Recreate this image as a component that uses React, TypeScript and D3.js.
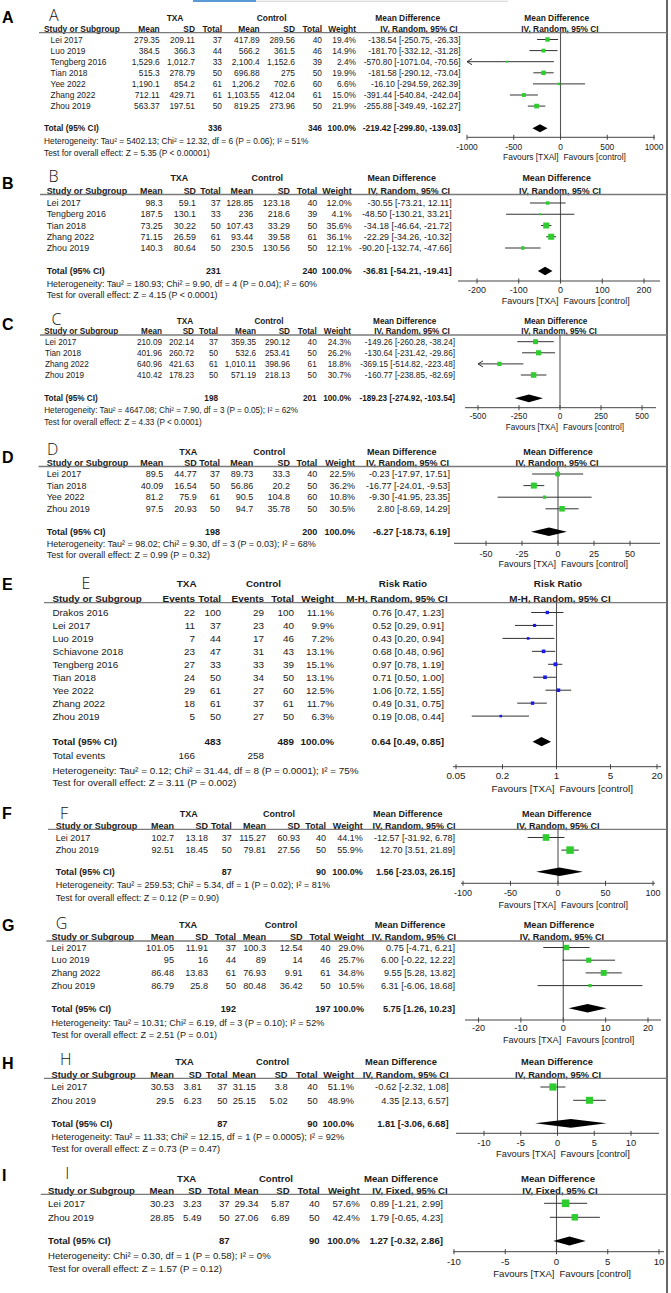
import React from 'react';
import * as d3 from 'd3';

const W = 671;
const H = 1293;
const FONT = "'Liberation Sans', Arial, Helvetica, sans-serif";

// ---------- A ----------
const A_studies = ['Lei 2017', 'Luo 2019', 'Tengberg 2016', 'Tian 2018', 'Yee 2022', 'Zhang 2022', 'Zhou 2019'];
const A_txa = [['279.35', '209.11', '37'], ['384.5', '366.3', '44'], ['1,529.6', '1,012.7', '33'], ['515.3', '278.79', '50'], ['1,190.1', '854.2', '61'], ['712.11', '429.71', '61'], ['563.37', '197.51', '50']];
const A_ctl = [['417.89', '289.56', '40'], ['566.2', '361.5', '46'], ['2,100.4', '1,152.6', '39'], ['696.88', '275', '50'], ['1,206.2', '702.6', '60'], ['1,103.55', '412.04', '61'], ['819.25', '273.96', '50']];
const A_weight = [19.4, 14.9, 2.4, 19.9, 6.6, 15.0, 21.9];
const A_effect = [[-138.54, -250.75, -26.33], [-181.70, -332.12, -31.28], [-570.80, -1071.04, -70.56], [-181.58, -290.12, -73.04], [-16.10, -294.59, 262.39], [-391.44, -540.84, -242.04], [-255.88, -349.49, -162.27]];
const A_totals = ['336', '346'];
const A_pooled = [-219.42, -299.80, -139.03];
const A_notes = ['Heterogeneity: Tau² = 5402.13; Chi² = 12.32, df = 6 (P = 0.06); I² = 51%', 'Test for overall effect: Z = 5.35 (P < 0.00001)'];
const A_ticks = [-1000, -500, 0, 500, 1000];

// ---------- B ----------
const B_studies = ['Lei 2017', 'Tengberg 2016', 'Tian 2018', 'Zhang 2022', 'Zhou 2019'];
const B_txa = [['98.3', '59.1', '37'], ['187.5', '130.1', '33'], ['73.25', '30.22', '50'], ['71.15', '26.59', '61'], ['140.3', '80.64', '50']];
const B_ctl = [['128.85', '123.18', '40'], ['236', '218.6', '39'], ['107.43', '33.29', '50'], ['93.44', '39.58', '61'], ['230.5', '130.56', '50']];
const B_weight = [12.0, 4.1, 35.6, 36.1, 12.1];
const B_effect = [[-30.55, -73.21, 12.11], [-48.50, -130.21, 33.21], [-34.18, -46.64, -21.72], [-22.29, -34.26, -10.32], [-90.20, -132.74, -47.66]];
const B_totals = ['231', '240'];
const B_pooled = [-36.81, -54.21, -19.41];
const B_notes = ['Heterogeneity: Tau² = 180.93; Chi² = 9.90, df = 4 (P = 0.04); I² = 60%', 'Test for overall effect: Z = 4.15 (P < 0.0001)'];
const B_ticks = [-200, -100, 0, 100, 200];

// ---------- C ----------
const C_studies = ['Lei 2017', 'Tian 2018', 'Zhang 2022', 'Zhou 2019'];
const C_txa = [['210.09', '202.14', '37'], ['401.96', '260.72', '50'], ['640.96', '421.63', '61'], ['410.42', '178.23', '50']];
const C_ctl = [['359.35', '290.12', '40'], ['532.6', '253.41', '50'], ['1,010.11', '398.96', '61'], ['571.19', '218.13', '50']];
const C_weight = [24.3, 26.2, 18.8, 30.7];
const C_effect = [[-149.26, -260.28, -38.24], [-130.64, -231.42, -29.86], [-369.15, -514.82, -223.48], [-160.77, -238.85, -82.69]];
const C_totals = ['198', '201'];
const C_pooled = [-189.23, -274.92, -103.54];
const C_notes = ['Heterogeneity: Tau² = 4647.08; Chi² = 7.90, df = 3 (P = 0.05); I² = 62%', 'Test for overall effect: Z = 4.33 (P < 0.0001)'];
const C_ticks = [-500, -250, 0, 250, 500];

// ---------- D ----------
const D_studies = ['Lei 2017', 'Tian 2018', 'Yee 2022', 'Zhou 2019'];
const D_txa = [['89.5', '44.77', '37'], ['40.09', '16.54', '50'], ['81.2', '75.9', '61'], ['97.5', '20.93', '50']];
const D_ctl = [['89.73', '33.3', '40'], ['56.86', '20.2', '50'], ['90.5', '104.8', '60'], ['94.7', '35.78', '50']];
const D_weight = [22.5, 36.2, 10.8, 30.5];
const D_effect = [[-0.23, -17.97, 17.51], [-16.77, -24.01, -9.53], [-9.30, -41.95, 23.35], [2.80, -8.69, 14.29]];
const D_totals = ['198', '200'];
const D_pooled = [-6.27, -18.73, 6.19];
const D_notes = ['Heterogeneity: Tau² = 98.02; Chi² = 9.30, df = 3 (P = 0.03); I² = 68%', 'Test for overall effect: Z = 0.99 (P = 0.32)'];
const D_ticks = [-50, -25, 0, 25, 50];

// ---------- E (risk ratio) ----------
const E_studies = ['Drakos 2016', 'Lei 2017', 'Luo 2019', 'Schiavone 2018', 'Tengberg 2016', 'Tian 2018', 'Yee 2022', 'Zhang 2022', 'Zhou 2019'];
const E_txa = [['22', '100'], ['11', '37'], ['7', '44'], ['23', '47'], ['27', '33'], ['24', '50'], ['29', '61'], ['18', '61'], ['5', '50']];
const E_ctl = [['29', '100'], ['23', '40'], ['17', '46'], ['31', '43'], ['33', '39'], ['34', '50'], ['27', '60'], ['37', '61'], ['27', '50']];
const E_weight = [11.1, 9.9, 7.2, 13.1, 15.1, 13.1, 12.5, 11.7, 6.3];
const E_effect = [[0.76, 0.47, 1.23], [0.52, 0.29, 0.91], [0.43, 0.20, 0.94], [0.68, 0.48, 0.96], [0.97, 0.78, 1.19], [0.71, 0.50, 1.00], [1.06, 0.72, 1.55], [0.49, 0.31, 0.75], [0.19, 0.08, 0.44]];
const E_totals = ['483', '489'];
const E_events = ['166', '258'];
const E_pooled = [0.64, 0.49, 0.85];
const E_notes = ['Heterogeneity: Tau² = 0.12; Chi² = 31.44, df = 8 (P = 0.0001); I² = 75%', 'Test for overall effect: Z = 3.11 (P = 0.002)'];
const E_ticks = [0.05, 0.2, 1, 5, 20];

// ---------- F ----------
const F_studies = ['Lei 2017', 'Zhou 2019'];
const F_txa = [['102.7', '13.18', '37'], ['92.51', '18.45', '50']];
const F_ctl = [['115.27', '60.93', '40'], ['79.81', '27.56', '50']];
const F_weight = [44.1, 55.9];
const F_effect = [[-12.57, -31.92, 6.78], [12.70, 3.51, 21.89]];
const F_totals = ['87', '90'];
const F_pooled = [1.56, -23.03, 26.15];
const F_notes = ['Heterogeneity: Tau² = 259.53; Chi² = 5.34, df = 1 (P = 0.02); I² = 81%', 'Test for overall effect: Z = 0.12 (P = 0.90)'];
const F_ticks = [-100, -50, 0, 50, 100];

// ---------- G ----------
const G_studies = ['Lei 2017', 'Luo 2019', 'Zhang 2022', 'Zhou 2019'];
const G_txa = [['101.05', '11.91', '37'], ['95', '16', '44'], ['86.48', '13.83', '61'], ['86.79', '25.8', '50']];
const G_ctl = [['100.3', '12.54', '40'], ['89', '14', '46'], ['76.93', '9.91', '61'], ['80.48', '36.42', '50']];
const G_weight = [29.0, 25.7, 34.8, 10.5];
const G_effect = [[0.75, -4.71, 6.21], [6.00, -0.22, 12.22], [9.55, 5.28, 13.82], [6.31, -6.06, 18.68]];
const G_totals = ['192', '197'];
const G_pooled = [5.75, 1.26, 10.23];
const G_notes = ['Heterogeneity: Tau² = 10.31; Chi² = 6.19, df = 3 (P = 0.10); I² = 52%', 'Test for overall effect: Z = 2.51 (P = 0.01)'];
const G_ticks = [-20, -10, 0, 10, 20];

// ---------- H ----------
const H_studies = ['Lei 2017', 'Zhou 2019'];
const H_txa = [['30.53', '3.81', '37'], ['29.5', '6.23', '50']];
const H_ctl = [['31.15', '3.8', '40'], ['25.15', '5.02', '50']];
const H_weight = [51.1, 48.9];
const H_effect = [[-0.62, -2.32, 1.08], [4.35, 2.13, 6.57]];
const H_totals = ['87', '90'];
const H_pooled = [1.81, -3.06, 6.68];
const H_notes = ['Heterogeneity: Tau² = 11.33; Chi² = 12.15, df = 1 (P = 0.0005); I² = 92%', 'Test for overall effect: Z = 0.73 (P = 0.47)'];
const H_ticks = [-10, -5, 0, 5, 10];

// ---------- I ----------
const I_studies = ['Lei 2017', 'Zhou 2019'];
const I_txa = [['30.23', '3.23', '37'], ['28.85', '5.49', '50']];
const I_ctl = [['29.34', '5.87', '40'], ['27.06', '6.89', '50']];
const I_weight = [57.6, 42.4];
const I_effect = [[0.89, -1.21, 2.99], [1.79, -0.65, 4.23]];
const I_totals = ['87', '90'];
const I_pooled = [1.27, -0.32, 2.86];
const I_notes = ['Heterogeneity: Chi² = 0.30, df = 1 (P = 0.58); I² = 0%', 'Test for overall effect: Z = 1.57 (P = 0.12)'];
const I_ticks = [-10, -5, 0, 5, 10];

const MD_HEADS = ['Mean', 'SD', 'Total', 'Mean', 'SD', 'Total', 'Weight'];
const RR_HEADS = ['Events', 'Total', 'Events', 'Total', 'Weight'];

// layout per panel (pixel positions)
const LA = { fs: 8.4, big: 17.2, hand: [49, 20.5], h1: 18.3, h2: 29.3, line: 32.7, lineX0: 39, row0: 39.5, step: 11.1, total: 128.3, het: 140.7, test: 152.7, axis: 137.3, tick: 146.7, fav: 156.7, studyHdr: 44, name: 50.6, cols: [159.7, 195, 222, 259.7, 295, 322, 356], ci: 460.5, txaC: 175, ctlC: 271.7, effC1: 407.7, effC2: 419, rC1: 556.7, rC2: 560, range: [467, 654], axisLine: [467, 655] };
const LB = { fs: 8.9, big: 183, hand: [48.5, 181.5], h1: 178, h2: 190.3, line: 194.5, lineX0: 40, row0: 203, step: 11.25, total: 271, het: 283.3, test: 295, axis: 281, tick: 289.3, fav: 301, studyHdr: 46.7, name: 46.7, cols: [162.7, 196, 220.7, 253.3, 290, 317.3, 351.7], ci: 451.7, txaC: 179.3, ctlC: 267.3, effC1: 401.7, effC2: 409, rC1: 556.7, rC2: 560, range: [477, 644], axisLine: [458, 660] };
const LC = { fs: 8.2, big: 324, hand: [51.5, 324.5], h1: 321, h2: 331.5, line: 335, lineX0: 40, row0: 341.7, step: 11.1, total: 398.3, het: 410, test: 422, axis: 407.7, tick: 416, fav: 426.7, studyHdr: 44.2, name: 45, cols: [162, 194, 218, 256, 290, 316.7, 351], ci: 455, txaC: 185, ctlC: 269, effC1: 404.7, effC2: 412, rC1: 555.8, rC2: 559, range: [478, 642], axisLine: [465, 656] };
const LD = { fs: 9.0, big: 457, hand: [47, 455], h1: 451.5, h2: 462.5, line: 466.5, lineX0: 38.6, row0: 474, step: 11.6, total: 531.7, het: 543.3, test: 555, axis: 543.3, tick: 553.3, fav: 563.3, studyHdr: 46.7, name: 46.7, cols: [163.3, 196.7, 220, 253.3, 290, 317.3, 355], ci: 450, txaC: 188.3, ctlC: 269.3, effC1: 401.7, effC2: 407.5, rC1: 558, rC2: 557, range: [486, 630], axisLine: [454, 660] };
const LE = { fs: 9.9, big: 584.2, hand: [81.5, 589], h1: 583.3, h2: 598.3, line: 602.7, lineX0: 44, row0: 612.5, step: 12.95, total: 741.7, events: 755.7, het: 770, test: 782.7, axis: 766.7, tick: 775.7, fav: 788.3, studyHdr: 52.4, name: 52.4, cols: [195, 221, 264, 294, 334], ci: 444, txaC: 186.7, ctlC: 263.5, effC1: 403, effC2: 397, rC1: 558, rC2: 560, range: [456, 657], axisLine: [453, 661] };
const LF = { fs: 9.0, big: 813.3, hand: [60, 818.5], h1: 814, h2: 826, line: 829.3, lineX0: 48, row0: 837.5, step: 12.6, total: 871.7, het: 885, test: 897.7, axis: 883.3, tick: 892.3, fav: 904.3, studyHdr: 55.8, name: 55.8, cols: [174, 208, 231.8, 266, 300, 326, 362.7], ci: 455, txaC: 188.8, ctlC: 279, effC1: 407.7, effC2: 414, rC1: 556.7, rC2: 558, range: [463, 653], axisLine: [461, 655] };
const LG = { fs: 9.15, big: 925, hand: [55.8, 929], h1: 924.3, h2: 936.7, line: 941, lineX0: 46.4, row0: 947.5, step: 12.7, total: 1008.3, het: 1022.3, test: 1034.3, axis: 1020, tick: 1027.7, fav: 1040, studyHdr: 51.5, name: 51.5, cols: [174, 208, 236, 266, 302.6, 330.5, 364], ci: 455, txaC: 188, ctlC: 281, effC1: 410, effC2: 414, rC1: 559, rC2: 562, range: [478.5, 648], axisLine: [465, 661] };
const LH = { fs: 9.3, big: 1063.3, hand: [60, 1064.5], h1: 1061.7, h2: 1074.3, line: 1078.3, lineX0: 44, row0: 1087, step: 13.3, total: 1123.3, het: 1136.7, test: 1148.3, axis: 1133.3, tick: 1142.3, fav: 1154, studyHdr: 51.5, name: 51.5, cols: [174, 201.7, 227.5, 256, 287.6, 317.6, 354], ci: 448.5, txaC: 184.5, ctlC: 272.5, effC1: 401, effC2: 405.6, rC1: 557, rC2: 558, range: [484, 631], axisLine: [456, 659] };
const LI = { fs: 9.6, big: 1175, hand: [65.2, 1178.5], h1: 1178.3, h2: 1191, line: 1194.3, lineX0: 40.8, row0: 1203.3, step: 14, total: 1241, het: 1255.7, test: 1268.3, axis: 1251.7, tick: 1261.7, fav: 1273.3, studyHdr: 48, name: 48, cols: [174, 201.7, 229.6, 258.5, 289.7, 319.7, 359.7], ci: 443, txaC: 186.7, ctlC: 276, effC1: 401, effC2: 410, rC1: 558, rC2: 560, range: [454, 659], axisLine: [453, 664] };

const RIGHT_EDGE = 667;
const GREEN = '#2ecc2e';
const BLUE = '#1a1ae6';

const fmt = (v: number) => v.toFixed(2);
const ciText = (e: number[]) => `${fmt(e[0])} [${fmt(e[1])}, ${fmt(e[2])}]`;

function Panel(p: any) {
  const L = p.L;
  const fs = L.fs;
  const dy = fs * 0.36;
  const ticks: number[] = p.ticks;
  const lo = ticks[0];
  const hi = ticks[ticks.length - 1];
  const x = (p.log ? d3.scaleLog() : d3.scaleLinear()).domain([lo, hi]).range(L.range);
  const zero = x(p.log ? 1 : 0);
  const nArm = p.txa[0].length;
  const heads = p.log ? RR_HEADS : MD_HEADS;
  const color = p.log ? BLUE : GREEN;
  const method = p.method || 'IV, Random, 95% CI';
  const effLabel = p.log ? 'Risk Ratio' : 'Mean Difference';
  const rowY = (i: number) => L.row0 + i * L.step;

  const T = (k: string, xx: number, y: number, s: string, anchor = 'start', bold = false) => (
    <text key={k} x={xx} y={y + dy} textAnchor={anchor} fontWeight={bold ? 700 : 400}>{s}</text>
  );

  const dh = fs * 0.47;
  const [pe, pl, ph] = p.pooled;
  const diamond = `M${x(pl)},${L.total} L${x(pe)},${L.total - dh} L${x(ph)},${L.total} L${x(pe)},${L.total + dh} Z`;

  return (
    <g fontFamily={FONT} fontSize={fs} fill="#1a1a1a">
      <text x={2} y={L.big + 5.8} fontSize={16} fontWeight={700} fill="#000">{p.letter}</text>
      <text x={L.hand[0]} y={L.hand[1]} fontSize={16} fontFamily="'Open Sans', 'DejaVu Sans', sans-serif" fontWeight={300} fill="#111">{p.letter}</text>

      {T('h-txa', L.txaC, L.h1, 'TXA', 'middle', true)}
      {T('h-ctl', L.ctlC, L.h1, 'Control', 'middle', true)}
      {T('h-eff', L.effC1, L.h1, effLabel, 'middle', true)}
      {T('h-eff2', L.rC1, L.h1, effLabel, 'middle', true)}
      {T('h-study', L.studyHdr, L.h2, 'Study or Subgroup', 'start', true)}
      {heads.map((h, j) => T('hc' + j, L.cols[j], L.h2, h, 'end', true))}
      {T('h-m', L.effC2, L.h2, method, 'middle', true)}
      {T('h-m2', L.rC2, L.h2, method, 'middle', true)}
      <line x1={L.lineX0} x2={RIGHT_EDGE} y1={L.line} y2={L.line} stroke="#7a7a7a" strokeWidth={1.3} />

      {p.studies.map((s: string, i: number) => {
        const y = rowY(i);
        const cells = [...p.txa[i], ...p.ctl[i], p.weight[i].toFixed(1) + '%'];
        return (
          <g key={s}>
            {T('n', L.name, y, s)}
            {cells.map((c: string, j: number) => T('c' + j, L.cols[j], y, c, 'end'))}
            {T('ci', L.ci, y, ciText(p.effect[i]), 'end')}
          </g>
        );
      })}

      {T('tot', L.studyHdr, L.total, 'Total (95% CI)', 'start', true)}
      {T('tot1', L.cols[nArm - 1], L.total, p.totals[0], 'end', true)}
      {T('tot2', L.cols[2 * nArm - 1], L.total, p.totals[1], 'end', true)}
      {T('totw', L.cols[2 * nArm], L.total, '100.0%', 'end', true)}
      {T('totci', L.ci, L.total, ciText(p.pooled), 'end', true)}
      {p.events && T('ev', L.studyHdr, L.events, 'Total events')}
      {p.events && T('ev1', L.cols[0], L.events, p.events[0], 'end')}
      {p.events && T('ev2', L.cols[nArm], L.events, p.events[1], 'end')}
      {T('het', L.studyHdr, L.het, p.notes[0])}
      {T('test', L.studyHdr, L.test, p.notes[1])}

      {/* plot */}
      <line x1={zero} x2={zero} y1={L.line} y2={L.axis} stroke="#555" strokeWidth={1.1} />
      {p.effect.map((e: number[], i: number) => {
        const y = rowY(i);
        const a = x(Math.max(e[1], lo));
        const b = x(Math.min(e[2], hi));
        const sz = Math.max(2, Math.sqrt(p.weight[i]));
        return (
          <g key={'m' + i}>
            <line x1={a} x2={b} y1={y} y2={y} stroke="#333" strokeWidth={1} />
            {e[1] < lo && <path d={`M${a + 5},${y - 3} L${a},${y} L${a + 5},${y + 3}`} fill="none" stroke="#333" strokeWidth={1} />}
            {e[2] > hi && <path d={`M${b - 5},${y - 3} L${b},${y} L${b - 5},${y + 3}`} fill="none" stroke="#333" strokeWidth={1} />}
            <rect x={x(e[0]) - sz / 2} y={y - sz / 2} width={sz} height={sz} fill={color} />
          </g>
        );
      })}
      <path d={diamond} fill="#000" />
      <line x1={L.axisLine[0]} x2={L.axisLine[1]} y1={L.axis} y2={L.axis} stroke="#444" strokeWidth={1} />
      {ticks.map((t) => (
        <g key={'t' + t}>
          <line x1={x(t)} x2={x(t)} y1={L.axis - 2.5} y2={L.axis + 2.5} stroke="#444" strokeWidth={1} />
          {T('tl', x(t), L.tick, String(t), 'middle')}
        </g>
      ))}
      {T('fav1', zero - 2, L.fav, p.favTxa || 'Favours [TXA]', 'end')}
      {T('fav2', zero + 3, L.fav, 'Favours [control]', 'start')}
    </g>
  );
}

export default function App() {
  return (
    <svg width={W} height={H} viewBox={`0 0 ${W} ${H}`} style={{ position: 'absolute', left: 0, top: 0, background: '#fff' }}>
      <rect x={0} y={0} width={W} height={H} fill="#fff" />
      <rect x={193} y={0} width={63} height={2} fill="#5b9bd5" />
      <line x1={256} x2={508} y1={1.2} y2={1.2} stroke="#d0d0d0" strokeWidth={1} />
      <line x1={RIGHT_EDGE} x2={RIGHT_EDGE} y1={0} y2={H} stroke="#333" strokeWidth={1.5} />
      <Panel letter="A" L={LA} studies={A_studies} txa={A_txa} ctl={A_ctl} weight={A_weight} effect={A_effect} totals={A_totals} pooled={A_pooled} notes={A_notes} ticks={A_ticks} favTxa="Favours [TXAl]" />
      <Panel letter="B" L={LB} studies={B_studies} txa={B_txa} ctl={B_ctl} weight={B_weight} effect={B_effect} totals={B_totals} pooled={B_pooled} notes={B_notes} ticks={B_ticks} />
      <Panel letter="C" L={LC} studies={C_studies} txa={C_txa} ctl={C_ctl} weight={C_weight} effect={C_effect} totals={C_totals} pooled={C_pooled} notes={C_notes} ticks={C_ticks} />
      <Panel letter="D" L={LD} studies={D_studies} txa={D_txa} ctl={D_ctl} weight={D_weight} effect={D_effect} totals={D_totals} pooled={D_pooled} notes={D_notes} ticks={D_ticks} />
      <Panel letter="E" L={LE} studies={E_studies} txa={E_txa} ctl={E_ctl} weight={E_weight} effect={E_effect} totals={E_totals} pooled={E_pooled} notes={E_notes} ticks={E_ticks} log events={E_events} method="M-H, Random, 95% CI" />
      <Panel letter="F" L={LF} studies={F_studies} txa={F_txa} ctl={F_ctl} weight={F_weight} effect={F_effect} totals={F_totals} pooled={F_pooled} notes={F_notes} ticks={F_ticks} />
      <Panel letter="G" L={LG} studies={G_studies} txa={G_txa} ctl={G_ctl} weight={G_weight} effect={G_effect} totals={G_totals} pooled={G_pooled} notes={G_notes} ticks={G_ticks} />
      <Panel letter="H" L={LH} studies={H_studies} txa={H_txa} ctl={H_ctl} weight={H_weight} effect={H_effect} totals={H_totals} pooled={H_pooled} notes={H_notes} ticks={H_ticks} />
      <Panel letter="I" L={LI} studies={I_studies} txa={I_txa} ctl={I_ctl} weight={I_weight} effect={I_effect} totals={I_totals} pooled={I_pooled} notes={I_notes} ticks={I_ticks} method="IV, Fixed, 95% CI" />
    </svg>
  );
}
